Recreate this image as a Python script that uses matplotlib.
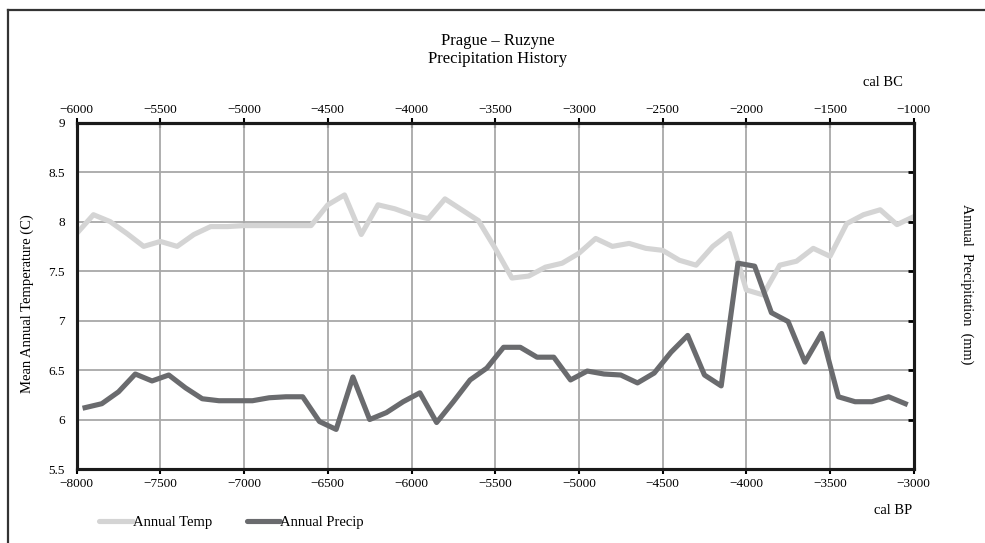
import numpy as np
import matplotlib.pyplot as plt
from matplotlib.lines import Line2D

plt.rcParams['font.family'] = ['Liberation Serif', 'DejaVu Serif']

# temperature sampled every 100 years, precipitation offset by 50 years
temp_years = np.arange(-8000, -2999, 100)
annual_temp = [7.88, 8.07, 8.00, 7.88, 7.75, 7.80, 7.75, 7.87, 7.95, 7.95,
               7.96, 7.96, 7.96, 7.96, 7.96, 8.17, 8.27, 7.87, 8.17, 8.13,
               8.07, 8.03, 8.23, 8.12, 8.01, 7.73, 7.43, 7.45, 7.54, 7.58,
               7.68, 7.83, 7.75, 7.78, 7.73, 7.71, 7.61, 7.56, 7.75, 7.88,
               7.31, 7.26, 7.56, 7.60, 7.73, 7.65, 7.98, 8.07, 8.12, 7.97,
               8.05]

precip_years = np.arange(-7950, -3049, 100)
annual_precip = [6.12, 6.16, 6.28, 6.46, 6.39, 6.45, 6.32, 6.21, 6.19, 6.19,
                 6.19, 6.22, 6.23, 6.23, 5.98, 5.90, 6.43, 6.00, 6.07, 6.18,
                 6.27, 5.97, 6.18, 6.40, 6.52, 6.73, 6.73, 6.63, 6.63, 6.40,
                 6.49, 6.46, 6.45, 6.37, 6.47, 6.68, 6.85, 6.45, 6.34, 7.58,
                 7.55, 7.08, 6.99, 6.58, 6.87, 6.23, 6.18, 6.18, 6.23, 6.16]

bp_ticks = np.arange(-8000, -2999, 500)
bc_ticks = np.arange(-6000, -999, 500)
y_ticks = [5.5, 6, 6.5, 7, 7.5, 8, 8.5, 9]

W, H = 985, 543
fig = plt.figure(figsize=(W / 100, H / 100), dpi=100)
ax = fig.add_axes([76.7 / W, 1 - 469 / H, 837 / W, 346.3 / H])

ln_t, = ax.plot(temp_years, annual_temp, color='#d4d4d4', lw=3.7,
                solid_joinstyle='round', zorder=3, label='Annual Temp')
ln_p, = ax.plot(precip_years, annual_precip, color='#6a6b6e', lw=3.7,
                solid_joinstyle='round', zorder=4, label='Annual Precip')

ax.set_xlim(-8000, -3000)
ax.set_ylim(5.5, 9)
ax.set_xticks(bp_ticks)
ax.set_yticks(y_ticks)
ax.set_yticklabels(['5.5', '6', '6.5', '7', '7.5', '8', '8.5', '9'])
ax.grid(True, color='#a8a8a8', lw=1.3, zorder=1)
ax.set_axisbelow(True)
ax.tick_params(axis='x', direction='out', length=3.5, width=1.5,
               labelsize=9.5, pad=3)
ax.tick_params(axis='y', length=0, labelsize=9.5, pad=8.5)
for s in ax.spines.values():
    s.set_linewidth(2.2)
    s.set_color('#1a1a1a')

# top axis in cal BC
top = ax.secondary_xaxis('top', functions=(lambda x: x + 2000, lambda x: x - 2000))
top.set_xticks(bc_ticks)
top.tick_params(direction='inout', length=7, width=1.5, labelsize=9.5, pad=1)
top.spines['top'].set_linewidth(2.2)

# right axis only carries the precipitation label and ticks
ax2 = ax.twinx()
ax2.set_ylim(5.5, 9)
ax2.set_yticks(y_ticks)
ax2.set_yticklabels([])
ax2.tick_params(axis='y', direction='in', length=4, width=2)
for s in ax2.spines.values():
    s.set_linewidth(2.2)
    s.set_color('#1a1a1a')

fig.text(498 / W, 1 - 50 / H, 'Prague – Ruzyne\nPrecipitation History',
         ha='center', va='center', fontsize=12, linespacing=1.2)
fig.text(883 / W, 1 - 82 / H, 'cal BC', ha='center', va='center', fontsize=10.5)
fig.text(893 / W, 1 - 511 / H, 'cal BP', ha='center', va='center', fontsize=10.5)
fig.text(27 / W, 1 - 304 / H, 'Mean Annual Temperature (C)', rotation=90,
         ha='center', va='center', fontsize=10.5)
fig.text(967 / W, 1 - 284 / H, 'Annual  Precipitation  (mm)', rotation=-90,
         ha='center', va='center', fontsize=10.3)

leg = fig.legend(handles=[ln_t, ln_p], loc='center left', ncol=2,
                 bbox_to_anchor=(99 / W, 1 - 522 / H), frameon=False,
                 fontsize=10.5, handlelength=2.3, handletextpad=0.0,
                 columnspacing=2.4, borderpad=0, borderaxespad=0)
for h in leg.get_lines():
    h.set_solid_capstyle('round')

# outer frame (top and left edges visible)
fig.add_artist(Line2D([8 / W, 1.0], [1 - 10 / H, 1 - 10 / H],
                      transform=fig.transFigure, color='#333333', lw=1.6))
fig.add_artist(Line2D([8 / W, 8 / W], [1 - 10 / H, 0.0],
                      transform=fig.transFigure, color='#333333', lw=1.6))

fig.savefig('out.png', dpi=100)
